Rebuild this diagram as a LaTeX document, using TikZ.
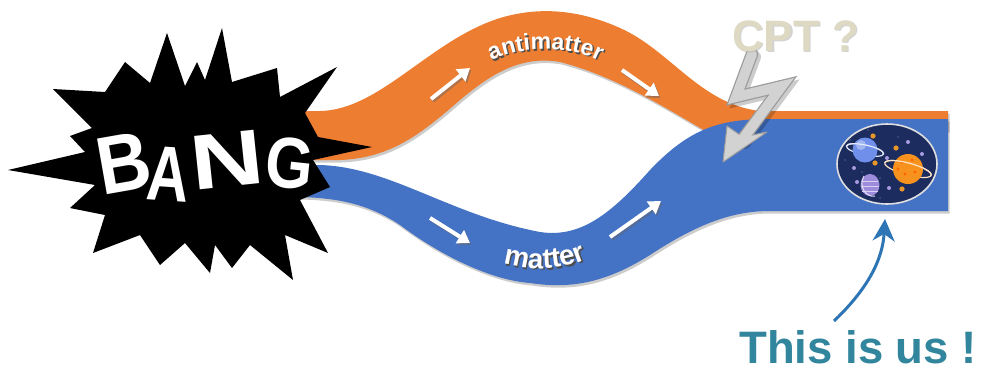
\documentclass[tikz,border=0pt]{standalone}
\usepackage{fontspec}
\setmainfont{Liberation Sans}
\usetikzlibrary{arrows.meta,decorations.text,shadows}

\definecolor{bandorange}{HTML}{ED7D31}
\definecolor{bandblue}{HTML}{4472C4}
\definecolor{cptgray}{HTML}{DDD9C3}
\definecolor{usteal}{HTML}{31859C}
\definecolor{pointer}{HTML}{2E75B6}
\definecolor{space}{HTML}{1C2C5E}
\definecolor{bolt}{HTML}{D2D2D2}
\definecolor{boltedge}{HTML}{9C9C9C}
\definecolor{planetblue}{HTML}{6F8FEA}
\definecolor{planetorange}{HTML}{F7921E}
\definecolor{planetpurple}{HTML}{9C8CDB}
\definecolor{dotorange}{HTML}{E8962A}
\definecolor{dotpurple}{HTML}{A89BE0}

\tikzset{
  band/.style={drop shadow={shadow xshift=1.5pt, shadow yshift=-2.5pt, opacity=.2, fill=black}},
  flowarrow/.style={white, line width=4pt, -{Triangle[length=12pt,width=15pt]}},
  flowshadow/.style={black!60, opacity=.45, line width=4pt, -{Triangle[length=12pt,width=15pt]}},
  bangletter/.style={text=white, inner sep=0pt},
}

\begin{document}
\begin{tikzpicture}[x=1pt,y=-1pt]
\useasboundingbox (0,0) rectangle (981,368);

% antimatter band (orange), running on under the blue band as a thin strip
\fill[bandorange, band]
  (300,111) -- (320,111)
  .. controls (380,110) and (430,40) .. (500,18)
  .. controls (540,6) and (580,10) .. (620,28)
  .. controls (670,50) and (700,104) .. (760,111)
  -- (948,111) -- (948,130) -- (740,150)
  .. controls (690,125) and (630,80) .. (560,62)
  .. controls (520,55) and (490,75) .. (460,100)
  .. controls (420,135) and (390,158) .. (340,160)
  -- (300,160) -- cycle;

% matter band (blue), ending in the wide block on the right
\fill[bandblue, band]
  (300,165) -- (320,165)
  .. controls (390,167) and (450,215) .. (540,232)
  .. controls (580,238) and (610,215) .. (650,170)
  .. controls (690,128) and (720,119) .. (770,119)
  -- (948,119) -- (948,211) -- (770,211)
  .. controls (735,211) and (700,222) .. (650,255)
  .. controls (610,280) and (575,290) .. (530,283)
  .. controls (490,280) and (440,255) .. (400,225)
  .. controls (370,205) and (340,198) .. (300,197) -- cycle;

% band labels, with a soft shadow under the letters
\path[decorate, decoration={text along path, text align=center, text color=black!70,
    text={|\fontsize{23}{25}\selectfont\bfseries|antimatter}}]
  (489.5,64.5) .. controls (516.5,46.5) and (576.5,46.5) .. (604.5,64.5);
\path[decorate, decoration={text along path, text align=center, text color=white,
    text={|\fontsize{23}{25}\selectfont\bfseries|antimatter}}]
  (488,63) .. controls (515,45) and (575,45) .. (603,63);
\path[decorate, decoration={text along path, text align=center, text color=black!70,
    text={|\fontsize{28}{30}\selectfont\bfseries|matter}}]
  (499.5,262.5) .. controls (526.5,273.5) and (566.5,272.5) .. (593.5,258.5);
\path[decorate, decoration={text along path, text align=center, text color=white,
    text={|\fontsize{28}{30}\selectfont\bfseries|matter}}]
  (498,261) .. controls (525,272) and (565,271) .. (592,257);

% flow arrows
\coordinate (a1s) at (431,99);  \coordinate (a1e) at (470,68);
\coordinate (a2s) at (622,70);  \coordinate (a2e) at (659,96);
\coordinate (a3s) at (430,218); \coordinate (a3e) at (470,243);
\coordinate (a4s) at (610,237); \coordinate (a4e) at (661,201);
\foreach \s/\e in {a1s/a1e,a2s/a2e,a3s/a3e,a4s/a4e}{
  \draw[flowshadow, transform canvas={shift={(1.5pt,-2pt)}}] (\s) -- (\e);
  \draw[flowarrow] (\s) -- (\e);
}

% the universe we live in
\coordinate (us) at (887,164);
\fill[space] (us) ellipse [x radius=50, y radius=40];
\draw[white!75!gray, line width=1.6pt] (us) ellipse [x radius=50, y radius=40];
\foreach \p in {(873,136),(896,148),(875,163),(902,189)}
  \fill[dotorange] \p circle (2.6);
\foreach \p in {(908,142),(887,158),(854,168),(922,154),(857,182),(889,188)}
  \fill[dotpurple] \p circle (2);
\foreach \p in {(850,140),(862,172),(880,178),(915,180),(926,170),(845,160),(898,137),(880,198),(868,130),(920,194)}
  \fill[white, opacity=.5] \p circle (0.7);
% ringed blue planet
\draw[white!80!planetblue, line width=1.2pt, rotate around={-12:(865,150)}] (865,150) ellipse [x radius=19, y radius=5];
\fill[planetblue] (865,150) circle (12.5);
\fill[white!35!planetblue] (861,145) circle (5);
\draw[white!80!planetblue, line width=1.2pt, rotate around={-12:(865,150)}] (846,150) arc[start angle=180, end angle=360, x radius=19, y radius=5];
% ringed orange planet
\draw[white!75!planetorange, line width=1.2pt, rotate around={-15:(908,169)}] (908,169) ellipse [x radius=24, y radius=6];
\fill[planetorange] (908,169) circle (15);
\foreach \p in {(902,162),(912,160),(905,174),(915,172),(898,169)}
  \fill[orange!80!red] \p circle (1.6);
\draw[white!75!planetorange, line width=1.2pt, rotate around={-15:(908,169)}] (884,169) arc[start angle=180, end angle=360, x radius=24, y radius=6];
% purple planet
\fill[planetpurple] (870,185) ellipse [x radius=9.5, y radius=11];
\draw[white!60!planetpurple, line width=.8pt] (862,181) -- (878,181) (861,186) -- (879,186) (862,191) -- (878,191);
\draw[white!70!planetpurple, line width=1pt] (864,176) .. controls (858,186) and (866,198) .. (875,196);

% lightning bolt with its arrow head
\coordinate (b1) at (752,54);
\coordinate (b2) at (736,97);
\coordinate (b3) at (782,86);
\coordinate (b4) at (742,140);
\begin{scope}[transform canvas={shift={(3pt,-3pt)}}]
  \draw[black, opacity=.2, line width=12pt, line cap=round] (b1) -- (b2) -- (b3) -- (b4);
\end{scope}
\draw[boltedge, line width=12.5pt, line cap=round, line join=miter] (b1) -- (b2) -- (b3) -- (b4);
\filldraw[fill=bolt, draw=boltedge, line width=1pt, line join=round]
  (723,162) -- (727,126) -- (743,137) -- (767,132) -- cycle;
\draw[bolt, line width=10pt, line cap=round, line join=miter] (b1) -- (b2) -- (b3) -- (b4);

% CPT label
\node[anchor=base west, inner sep=0pt, text=black!35, opacity=.5] at (733.5,52.5) {\fontsize{44}{46}\selectfont\bfseries CPT ?};
\node[anchor=base west, inner sep=0pt, text=cptgray] (cpt) at (732,51) {\fontsize{44}{46}\selectfont\bfseries CPT ?};

% the big bang burst
\fill[black] (8,170) -- (85,152) -- (70,136) -- (92,128) -- (53,89) -- (105,92)
  -- (125,62) -- (150,83) -- (167,33) -- (185,86) -- (197,62) -- (205,80)
  -- (222,28) -- (232,82) -- (277,68) -- (280,97) -- (337,67) -- (305,113)
  -- (318,137) -- (372,147) -- (313,160) -- (330,187) -- (300,200)
  -- (328,253) -- (285,235) -- (293,280) -- (250,245) -- (232,268)
  -- (215,245) -- (210,273) -- (185,243) -- (160,265) -- (140,235)
  -- (93,253) -- (105,215) -- (70,208) -- (95,185) -- cycle;
\node[bangletter, rotate=10, xscale=.9, font=\fontsize{82}{82}\selectfont\bfseries] (bB) at (124,163) {B};
\node[bangletter, rotate=-4, xscale=.75, font=\fontsize{78}{78}\selectfont\bfseries] (bA) at (168,174) {A};
\node[bangletter, rotate=6, xscale=1.3, font=\fontsize{78}{78}\selectfont\bfseries] (bN) at (227,160) {N};
\node[bangletter, rotate=-6, xscale=.85, font=\fontsize{72}{72}\selectfont\bfseries] (bG) at (290,163) {G};

% pointer to us
\node[anchor=base west, inner sep=0pt, text depth=0pt, text=usteal] (thisisus) at (739,363) {\fontsize{45.5}{47}\selectfont\bfseries This is us !};
\coordinate (tail) at (834,321);
\coordinate (tip) at (885,219);
\draw[pointer, line width=3pt, -{Stealth[length=22pt,width=22pt,inset=7pt]}]
  (tail) .. controls (858,298) and (882,268) .. (tip);

\end{tikzpicture}
\end{document}
